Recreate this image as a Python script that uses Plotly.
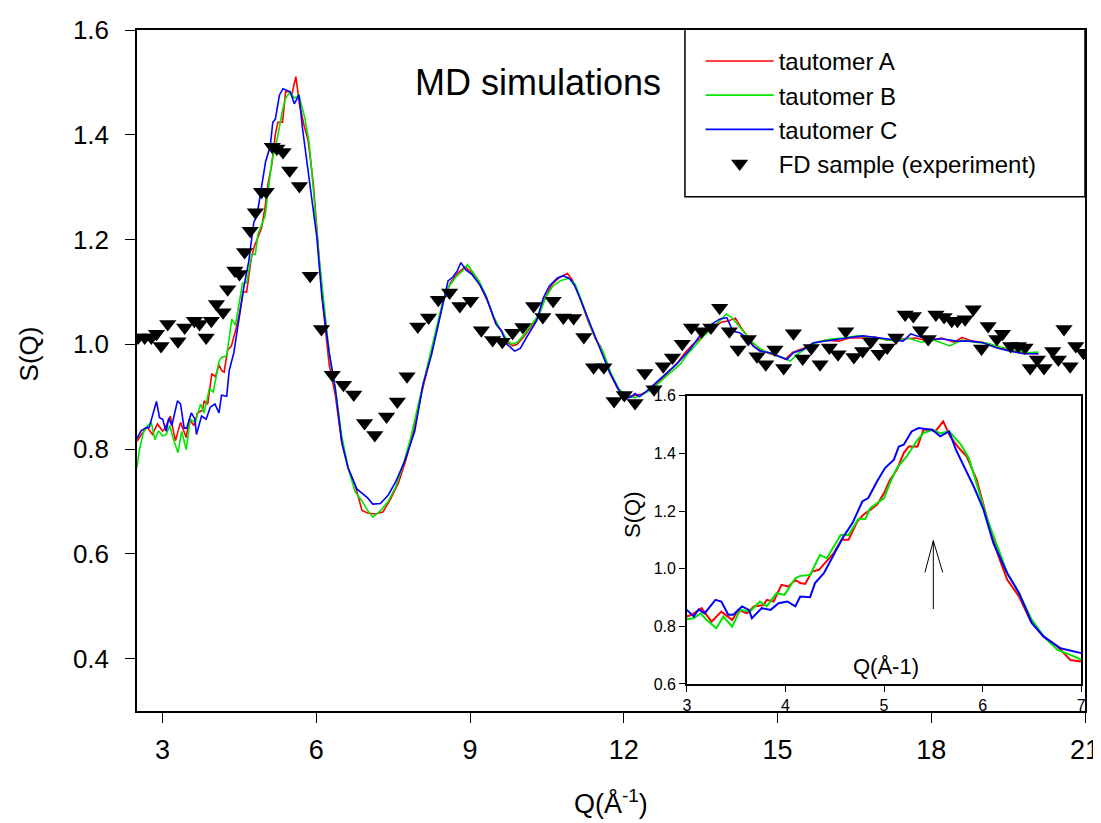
import plotly.graph_objects as go

# ---------------- data ----------------
q_a = [2.50, 2.60, 2.70, 2.80, 2.90, 3.00, 3.05, 3.15, 3.25, 3.35, 3.46, 3.52, 3.61, 3.68, 3.78, 3.81, 3.88, 3.96, 4.03, 4.10,
       4.15, 4.20, 4.27, 4.34, 4.42, 4.49, 4.57, 4.64, 4.73, 4.79, 4.86, 4.93, 5.00, 5.06, 5.13, 5.20, 5.25, 5.34, 5.40, 5.47,
       5.52, 5.60, 5.67, 5.76, 5.84, 5.94, 6.05, 6.15, 6.25, 6.37, 6.49, 6.62, 6.76, 6.89, 7.00, 7.15, 7.30, 7.45, 7.60, 7.75,
       7.90, 8.05, 8.20, 8.35, 8.50, 8.62, 8.75, 8.90, 9.00, 9.12, 9.25, 9.35, 9.50, 9.62, 9.72, 9.82, 9.92, 10.05, 10.20, 10.32,
       10.45, 10.60, 10.75, 10.90, 11.00, 11.14, 11.30, 11.45, 11.55, 11.73, 11.88, 12.05, 12.20, 12.35, 12.50, 12.70, 12.90, 13.05, 13.20, 13.35,
       13.50, 13.70, 13.90, 14.05, 14.18, 14.30, 14.45, 14.55, 14.70, 14.85, 15.00, 15.15, 15.30, 15.50, 15.70, 15.95, 16.20, 16.40, 16.65, 16.90,
       17.15, 17.40, 17.70, 17.95, 18.20, 18.45, 18.60, 18.80, 19.00, 19.25, 19.55, 19.80, 20.09]
s_a = [0.815, 0.830, 0.842, 0.828, 0.848, 0.834, 0.840, 0.863, 0.816, 0.851, 0.822, 0.857, 0.845, 0.869, 0.874, 0.892, 0.886, 0.944, 0.938, 0.961,
       0.950, 0.947, 0.990, 0.996, 1.025, 1.054, 1.100, 1.100, 1.164, 1.187, 1.204, 1.222, 1.262, 1.308, 1.343, 1.401, 1.424, 1.424, 1.482, 1.482,
       1.476, 1.511, 1.459, 1.418, 1.389, 1.308, 1.169, 1.054, 0.961, 0.903, 0.816, 0.764, 0.730, 0.683, 0.678, 0.676, 0.680, 0.705, 0.735, 0.780,
       0.835, 0.905, 0.965, 1.030, 1.090, 1.118, 1.135, 1.148, 1.140, 1.128, 1.100, 1.080, 1.040, 1.025, 1.004, 0.997, 1.000, 1.015, 1.035, 1.050,
       1.085, 1.115, 1.128, 1.135, 1.122, 1.090, 1.045, 1.010, 0.995, 0.945, 0.915, 0.900, 0.902, 0.905, 0.912, 0.930, 0.950, 0.965, 0.985, 1.000,
       1.012, 1.030, 1.042, 1.045, 1.050, 1.030, 1.010, 0.995, 0.988, 0.982, 0.978, 0.972, 0.985, 0.992, 1.002, 1.008, 1.006, 1.012, 1.012, 1.014,
       1.008, 1.010, 1.012, 1.006, 1.012, 1.004, 1.013, 1.006, 1.004, 0.995, 0.988, 0.983, 0.982]

q_b = [2.50, 2.55, 2.62, 2.70, 2.78, 2.85, 2.92, 3.00, 3.07, 3.14, 3.20, 3.30, 3.37, 3.46, 3.54, 3.64, 3.74, 3.81, 3.91, 3.99,
       4.10, 4.15, 4.25, 4.35, 4.42, 4.56, 4.64, 4.74, 4.81, 4.86, 5.00, 5.06, 5.13, 5.23, 5.34, 5.40, 5.49, 5.57, 5.66, 5.78,
       5.86, 5.94, 6.05, 6.15, 6.25, 6.37, 6.49, 6.62, 6.76, 6.89, 7.00, 7.10, 7.25, 7.40, 7.55, 7.70, 7.85, 8.00, 8.15, 8.30,
       8.45, 8.58, 8.72, 8.85, 8.95, 9.05, 9.18, 9.30, 9.45, 9.58, 9.70, 9.80, 9.92, 10.05, 10.22, 10.35, 10.48, 10.62, 10.78, 10.92,
       11.05, 11.18, 11.32, 11.48, 11.60, 11.75, 11.90, 12.05, 12.22, 12.38, 12.55, 12.75, 12.95, 13.10, 13.25, 13.40, 13.55, 13.72, 13.88, 14.00,
       14.12, 14.25, 14.38, 14.50, 14.65, 14.80, 14.95, 15.10, 15.25, 15.40, 15.60, 15.80, 16.05, 16.30, 16.55, 16.80, 17.05, 17.30, 17.55, 17.80,
       18.05, 18.36, 18.60, 18.85, 19.10, 19.35, 19.60, 19.85, 20.09]
s_b = [0.765, 0.800, 0.830, 0.845, 0.850, 0.818, 0.835, 0.825, 0.828, 0.845, 0.822, 0.793, 0.834, 0.799, 0.857, 0.851, 0.886, 0.869, 0.915, 0.909,
       0.967, 0.975, 0.978, 1.048, 1.036, 1.117, 1.117, 1.172, 1.172, 1.210, 1.245, 1.297, 1.349, 1.389, 1.447, 1.470, 1.482, 1.470, 1.476, 1.430,
       1.384, 1.297, 1.169, 1.077, 0.984, 0.915, 0.828, 0.764, 0.718, 0.701, 0.683, 0.670, 0.682, 0.700, 0.728, 0.772, 0.825, 0.890, 0.950, 1.015,
       1.075, 1.110, 1.128, 1.140, 1.152, 1.138, 1.120, 1.095, 1.055, 1.030, 1.012, 1.000, 1.004, 1.018, 1.040, 1.058, 1.090, 1.112, 1.122, 1.126,
       1.115, 1.082, 1.042, 1.005, 0.985, 0.945, 0.915, 0.902, 0.898, 0.905, 0.915, 0.932, 0.948, 0.962, 0.982, 0.998, 1.015, 1.030, 1.045, 1.058,
       1.050, 1.035, 1.020, 1.005, 0.992, 0.985, 0.980, 0.975, 0.968, 0.982, 0.995, 1.005, 1.010, 1.012, 1.016, 1.014, 1.010, 1.006, 1.012, 1.004,
       1.008, 0.997, 1.008, 1.004, 1.002, 0.995, 0.990, 0.984, 0.985]

q_c = [2.50, 2.58, 2.66, 2.74, 2.82, 2.88, 2.94, 3.00, 3.07, 3.12, 3.18, 3.29, 3.35, 3.42, 3.47, 3.56, 3.63, 3.66, 3.76, 3.85,
       3.93, 4.02, 4.10, 4.15, 4.25, 4.30, 4.39, 4.49, 4.59, 4.68, 4.78, 4.84, 4.93, 5.01, 5.10, 5.15, 5.20, 5.28, 5.35, 5.44,
       5.49, 5.57, 5.66, 5.73, 5.81, 5.91, 6.01, 6.11, 6.25, 6.37, 6.50, 6.62, 6.79, 7.00, 7.10, 7.25, 7.40, 7.55, 7.72, 7.92,
       8.08, 8.25, 8.41, 8.57, 8.66, 8.75, 8.82, 8.92, 9.05, 9.20, 9.32, 9.51, 9.61, 9.72, 9.87, 9.98, 10.10, 10.30, 10.43, 10.55,
       10.70, 10.82, 10.95, 11.05, 11.14, 11.34, 11.53, 11.73, 11.92, 12.05, 12.15, 12.22, 12.30, 12.44, 12.70, 13.03, 13.29, 13.48, 13.71, 13.87,
       14.01, 14.13, 14.26, 14.40, 14.52, 14.66, 14.85, 15.05, 15.18, 15.31, 15.50, 15.70, 15.96, 16.22, 16.41, 16.67, 16.93, 17.19, 17.45, 17.60,
       17.72, 17.97, 18.23, 18.49, 18.76, 19.01, 19.28, 19.54, 19.80, 20.09]
s_c = [0.820, 0.835, 0.840, 0.842, 0.870, 0.891, 0.860, 0.857, 0.834, 0.859, 0.845, 0.892, 0.886, 0.840, 0.840, 0.869, 0.857, 0.828, 0.863, 0.857,
       0.880, 0.886, 0.869, 0.903, 0.901, 0.950, 0.984, 1.048, 1.112, 1.158, 1.233, 1.245, 1.303, 1.349, 1.378, 1.424, 1.430, 1.476, 1.488, 1.484,
       1.482, 1.459, 1.476, 1.412, 1.355, 1.285, 1.204, 1.088, 0.984, 0.915, 0.811, 0.764, 0.724, 0.707, 0.695, 0.696, 0.712, 0.738, 0.776, 0.834,
       0.923, 0.981, 1.051, 1.121, 1.128, 1.140, 1.156, 1.142, 1.132, 1.112, 1.089, 1.038, 1.026, 1.000, 0.987, 0.992, 1.013, 1.045, 1.089, 1.112,
       1.126, 1.131, 1.125, 1.110, 1.089, 1.038, 0.993, 0.945, 0.910, 0.897, 0.900, 0.906, 0.900, 0.910, 0.933, 0.962, 0.990, 1.016, 1.038, 1.048,
       1.051, 1.025, 1.022, 1.013, 0.997, 0.987, 0.984, 0.977, 0.971, 0.984, 0.990, 1.003, 1.006, 1.010, 1.013, 1.016, 1.013, 1.010, 1.006, 1.020,
       1.016, 1.010, 1.010, 1.006, 1.006, 1.003, 0.993, 0.987, 0.982, 0.982]

q_exp = [2.52, 2.65, 2.78, 2.88, 2.97, 3.10, 3.30, 3.43, 3.62, 3.72, 3.85, 3.95, 4.05, 4.18, 4.27, 4.41, 4.50, 4.60, 4.71, 4.81,
         4.93, 5.02, 5.14, 5.23, 5.35, 5.48, 5.67, 5.88, 6.10, 6.31, 6.53, 6.73, 6.94, 7.14, 7.37, 7.58, 7.77, 7.98, 8.19, 8.38,
         8.60, 8.80, 9.01, 9.22, 9.44, 9.63, 9.83, 10.03, 10.24, 10.42, 10.62, 10.82, 11.02, 11.22, 11.41, 11.61, 11.81, 12.01, 12.22, 12.41,
         12.59, 12.77, 12.95, 13.14, 13.32, 13.52, 13.70, 13.87, 14.06, 14.23, 14.43, 14.60, 14.77, 14.95, 15.12, 15.31, 15.49, 15.66, 15.83, 16.01,
         16.18, 16.33, 16.49, 16.66, 16.82, 16.98, 17.14, 17.31, 17.49, 17.65, 17.79, 17.94, 18.09, 18.25, 18.40, 18.51, 18.66, 18.82, 18.98, 19.11,
         19.28, 19.39, 19.55, 19.70, 19.83, 19.93, 20.07, 20.20, 20.37, 20.48, 20.59, 20.71, 20.82, 20.97]
s_exp = [1.013, 1.013, 1.013, 1.020, 0.997, 1.039, 1.006, 1.032, 1.045, 1.039, 1.013, 1.045, 1.077, 1.061, 1.105, 1.141, 1.134, 1.176, 1.217, 1.252,
         1.291, 1.291, 1.377, 1.374, 1.367, 1.332, 1.302, 1.131, 1.029, 0.942, 0.923, 0.904, 0.850, 0.827, 0.862, 0.891, 0.939, 1.034, 1.051, 1.085,
         1.099, 1.073, 1.083, 1.027, 1.008, 1.005, 1.022, 1.033, 1.073, 1.052, 1.083, 1.051, 1.050, 1.014, 0.956, 0.956, 0.892, 0.903, 0.888, 0.945,
         0.914, 0.958, 0.975, 1.001, 1.032, 1.025, 1.032, 1.070, 1.025, 0.990, 1.010, 0.977, 0.962, 0.990, 0.955, 1.021, 0.973, 0.993, 0.962, 0.994,
         0.981, 1.025, 0.976, 0.987, 1.005, 0.982, 0.994, 1.013, 1.057, 1.054, 1.027, 1.010, 1.057, 1.052, 1.045, 1.045, 1.048, 1.067, 0.992, 1.035,
         1.010, 1.020, 0.997, 0.997, 0.994, 0.955, 0.971, 0.955, 0.987, 0.971, 1.029, 0.958, 0.997, 0.984]

names = ["tautomer A", "tautomer B", "tautomer C", "FD sample (experiment)"]
colors = ["#ff0000", "#00e600", "#0000ff", "#000000"]

main_xticks = [3, 6, 9, 12, 15, 18, 21]
main_yticks = [0.4, 0.6, 0.8, 1.0, 1.2, 1.4, 1.6]
inset_xticks = [3, 4, 5, 6, 7]
inset_yticks = [0.6, 0.8, 1.0, 1.2, 1.4, 1.6]

FONT = "Arial, 'Liberation Sans', sans-serif"

fig = go.Figure()
series = [(q_a, s_a), (q_b, s_b), (q_c, s_c)]
for (q, s), n, c in zip(series, names[:3], colors[:3]):
    fig.add_trace(go.Scatter(x=q, y=s, mode="lines", name=n,
                             line=dict(color=c, width=1.6), xaxis="x", yaxis="y"))
fig.add_trace(go.Scatter(x=q_exp, y=s_exp, mode="markers", name=names[3],
                         marker=dict(symbol="triangle-down", size=15, color="black"),
                         xaxis="x", yaxis="y"))
# inset traces (Q 3-7)
for (q, s), n, c in zip(series, names[:3], colors[:3]):
    fig.add_trace(go.Scatter(x=q, y=s, mode="lines", name=n, showlegend=False,
                             line=dict(color=c, width=2), xaxis="x2", yaxis="y2"))

axis_common = dict(showline=True, linecolor="black", linewidth=1.5, mirror=True,
                   showgrid=False, zeroline=False, ticks="outside", tickcolor="black",
                   automargin=False)

# the page body adds an 8px offset, so the figure is sized to the visible area
fig.update_layout(
    width=1093, height=815,
    margin=dict(l=129, r=16, t=22, b=112, autoexpand=False),
    paper_bgcolor="white", plot_bgcolor="white",
    font=dict(family=FONT, color="black"),
    xaxis=dict(**axis_common, range=[2.5, 21], tickvals=main_xticks, ticklen=10,
               tickfont=dict(size=27), domain=[0, 1], ticklabelstandoff=4),
    yaxis=dict(**axis_common, range=[0.3, 1.6], tickvals=main_yticks, tickformat=".1f",
               ticklen=10, tickfont=dict(size=26), domain=[0, 1], ticklabelstandoff=11),
    xaxis2=dict(**axis_common, range=[3, 7], tickvals=inset_xticks, ticklen=6,
                tickfont=dict(size=16), domain=[0.580, 0.996], anchor="y2"),
    yaxis2=dict(**axis_common, range=[0.6, 1.6], tickvals=inset_yticks, tickformat=".1f",
                ticklen=6, tickfont=dict(size=16), domain=[0.0397, 0.463], anchor="x2"),
    showlegend=True,
    legend=dict(x=0.5946, y=0.987, xanchor="left", yanchor="top",
                bgcolor="rgba(0,0,0,0)", borderwidth=0, itemwidth=68,
                font=dict(size=24, family=FONT), tracegroupgap=0),
)

# legend frame
fig.add_shape(type="rect", xref="paper", yref="paper", x0=0.578, x1=1.0, y0=0.7553, y1=1.002,
              line=dict(color="black", width=1.5), fillcolor="rgba(0,0,0,0)")

# arrow in the inset (open head)
fig.add_shape(type="line", xref="x2", yref="y2", x0=5.5, y0=0.86, x1=5.5, y1=1.097, line=dict(color="black", width=1))
fig.add_shape(type="line", xref="x2", yref="y2", x0=5.5, y0=1.097, x1=5.415, y1=0.987, line=dict(color="black", width=1))
fig.add_shape(type="line", xref="x2", yref="y2", x0=5.5, y0=1.097, x1=5.595, y1=0.987, line=dict(color="black", width=1))

# axis titles
fig.add_annotation(text="Q(Å<sup>-1</sup>)", xref="paper", yref="paper", x=0.5, y=-0.1336,
                   yanchor="middle", showarrow=False, font=dict(size=27, family=FONT))
fig.add_annotation(text="S(Q)", xref="paper", yref="paper", x=-0.1129, y=0.525, textangle=-90,
                   xanchor="center", yanchor="middle", showarrow=False, font=dict(size=26, family=FONT))

fig.add_annotation(text="MD simulations", xref="paper", yref="paper", x=0.4225, y=0.9566,
                   showarrow=False, font=dict(size=36, family=FONT))
fig.add_annotation(text="Q(Å-1)", xref="x2", yref="y2", x=5.02, y=0.66,
                   showarrow=False, font=dict(size=22, family=FONT))
fig.add_annotation(text="S(Q)", xref="paper", yref="paper", x=0.522, y=0.251, textangle=-90,
                   showarrow=False, font=dict(size=22, family=FONT))

fig.write_html("out.html")
